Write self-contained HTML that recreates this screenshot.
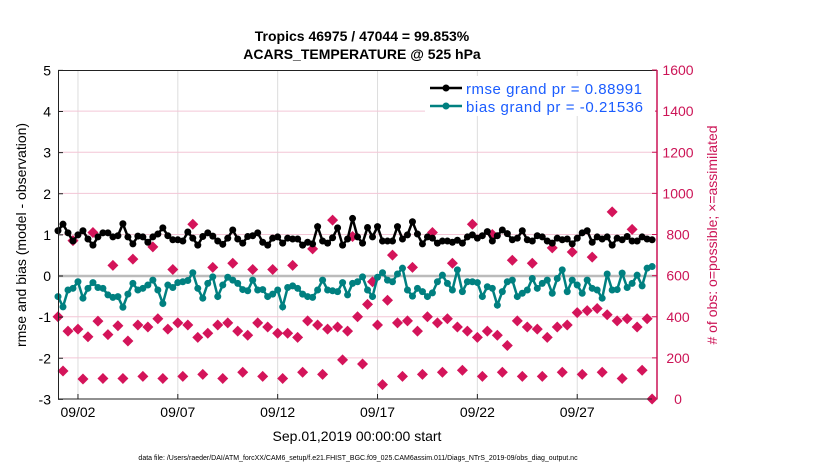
<!DOCTYPE html>
<html><head><meta charset="utf-8"><style>
body{margin:0;background:#fff;font-family:"Liberation Sans",sans-serif}
svg text{font-family:"Liberation Sans",sans-serif}
</style></head><body>
<svg id="chart" width="830" height="470" xmlns="http://www.w3.org/2000/svg">
<text x="362" y="41" font-size="14" font-weight="bold" text-anchor="middle">Tropics 46975 / 47044 = 99.853%</text>
<text x="362" y="59" font-size="14" font-weight="bold" text-anchor="middle">ACARS_TEMPERATURE @ 525 hPa</text>
<g id="grid"></g>
<g id="marks"></g>
<rect x="58.5" y="70.5" width="598.5" height="328.5" fill="none" stroke="#222" stroke-width="1"/>
<g id="axes"></g>
<text transform="translate(26,235) rotate(-90)" font-size="14" text-anchor="middle">rmse and bias (model - observation)</text>
<text transform="translate(717,235) rotate(-90)" font-size="14" fill="#cc1456" text-anchor="middle"># of obs: o=possible; ×=assimilated</text>
<text x="357" y="441" font-size="14" text-anchor="middle">Sep.01,2019 00:00:00 start</text>
<text x="358" y="460" font-size="7" text-anchor="middle">data file: /Users/raeder/DAI/ATM_forcXX/CAM6_setup/f.e21.FHIST_BGC.f09_025.CAM6assim.011/Diags_NTrS_2019-09/obs_diag_output.nc</text>
<g>
<rect x="425" y="76" width="230" height="40" fill="#fff"/>
<line x1="430" y1="88" x2="462" y2="88" stroke="#000" stroke-width="2.5"/><circle cx="446" cy="88" r="3.5" fill="#000"/>
<text x="466" y="94" font-size="15" textLength="176" fill="#1a5cff">rmse grand pr = 0.88991</text>
<line x1="430" y1="106" x2="462" y2="106" stroke="#008080" stroke-width="2.5"/><circle cx="446" cy="106" r="3.5" fill="#008080"/>
<text x="466" y="112" font-size="15" textLength="177" fill="#1a5cff">bias grand pr = -0.21536</text>
</g>
</svg>
<script>
const xTickLabels=["09/02","09/07","09/12","09/17","09/22","09/27"];
const xTickDays=[1,6,11,16,21,26];
const leftTicks=[-3,-2,-1,0,1,2,3,4,5];
const rightTicks=[0,200,400,600,800,1000,1200,1400,1600];
const rmse=[1.10,1.26,1.05,0.85,1.0,1.1,0.9,0.75,0.95,1.05,1.05,0.95,0.98,1.27,0.95,0.78,0.97,0.95,0.82,0.95,1.02,1.17,0.98,0.88,0.88,0.85,1.07,0.92,0.75,0.96,1.05,0.97,0.85,0.77,0.92,1.12,0.9,0.8,0.96,0.98,1.05,0.82,0.75,0.92,0.95,0.8,0.92,0.9,0.9,0.75,0.82,0.78,1.2,0.85,0.8,0.93,1.17,0.75,0.9,1.4,0.95,0.8,1.18,0.95,1.2,0.85,0.85,0.85,1.2,0.9,1.0,1.32,1.02,0.78,0.95,0.92,0.8,0.85,0.85,0.82,0.87,0.8,0.95,1.0,0.92,0.98,1.08,0.85,0.98,1.12,1.03,0.88,0.92,1.1,0.88,0.85,0.98,0.95,0.85,0.8,0.92,0.88,0.9,0.78,0.92,1.05,1.1,0.82,0.95,0.9,0.95,0.75,0.92,0.88,0.96,0.85,0.85,0.95,0.9,0.88];
const bias=[-0.50,-0.75,-0.34,-0.30,-0.14,-0.54,-0.30,-0.16,-0.28,-0.30,-0.46,-0.52,-0.50,-0.76,-0.44,-0.18,-0.34,-0.30,-0.22,-0.10,-0.34,-0.67,-0.22,-0.28,-0.16,-0.14,-0.11,0.08,-0.30,-0.54,-0.18,-0.02,-0.50,-0.22,-0.03,-0.10,-0.18,-0.33,-0.36,-0.10,-0.34,-0.33,-0.50,-0.44,-0.34,-0.75,-0.28,-0.24,-0.30,-0.44,-0.50,-0.52,-0.34,-0.10,-0.34,-0.36,-0.38,-0.16,-0.46,-0.18,-0.14,-0.02,-0.34,-0.50,-0.03,0.08,-0.10,-0.14,0.05,0.19,-0.34,-0.49,-0.30,-0.38,-0.50,-0.41,-0.14,0.02,-0.18,-0.34,0.15,-0.38,-0.14,-0.14,-0.16,-0.50,-0.26,-0.30,-0.71,-0.38,-0.14,-0.10,-0.50,-0.42,-0.34,-0.06,-0.30,-0.18,-0.10,-0.42,-0.06,0.15,-0.38,-0.10,-0.22,-0.42,-0.10,-0.30,-0.34,-0.54,0.05,-0.34,-0.33,0.07,-0.28,-0.18,0.02,-0.24,0.19,0.23];
const obsCount=[400,136,330,770,340,97,303,810,379,100,313,650,356,100,282,680,360,110,350,740,390,100,340,630,370,110,360,850,300,120,320,640,360,100,370,660,330,130,310,630,370,110,350,630,320,100,320,650,300,130,380,730,360,120,340,870,350,190,330,790,400,170,460,570,360,70,480,700,370,110,380,640,330,120,400,810,370,130,390,660,350,140,330,850,300,110,330,800,310,130,260,675,380,110,350,660,340,110,300,735,350,130,360,715,420,120,430,690,440,130,410,910,380,100,390,825,350,140,390,0];
const NS="http://www.w3.org/2000/svg";
const X0=58,PXD=19.97,L=58,R=657,T=70,B=399;
const xs=d=>X0+d*PXD;
const yl=v=>276-v*41.125;
const yr=v=>B-v*(B-T)/1600;
function mk(tag,attrs,parent){const e=document.createElementNS(NS,tag);for(const k in attrs)e.setAttribute(k,attrs[k]);parent.appendChild(e);return e;}
const grid=document.getElementById('grid'),marks=document.getElementById('marks'),axes=document.getElementById('axes');
xTickDays.forEach((d,i)=>{
 const g=mk('line',{x1:xs(d),x2:xs(d),y1:T,y2:B,stroke:'#ddd','stroke-width':1},grid);
 
 
 const t=mk('line',{x1:xs(d),x2:xs(d),y1:B,y2:B-5,stroke:'#222'},axes);
 
 
 const lb=mk('text',{x:xs(d),y:B+18,'font-size':14,'text-anchor':'middle'},axes);lb.textContent=xTickLabels[i];
 
 
});
rightTicks.forEach(v=>{
 if(v>0&&v<1600){const g=mk('line',{x1:L,x2:R,y1:yr(v),y2:yr(v),stroke:'#f3c6d6','stroke-width':1},grid);
 
 }
 mk('line',{x1:R-5,x2:R,y1:yr(v),y2:yr(v),stroke:'#cc1456'},axes);
 const lb=mk('text',{x:R+21,y:yr(v)+5,'font-size':14,fill:'#cc1456','text-anchor':'middle'},axes);lb.textContent=v;
 
 
});
mk('line',{x1:R,x2:R,y1:T,y2:B,stroke:'#cc1456','stroke-width':1.5},axes);
leftTicks.forEach(v=>{
 const lb=mk('text',{x:51,y:yl(v)+5,'font-size':14,'text-anchor':'end'},axes);lb.textContent=v;
 
 
 mk('line',{x1:L,x2:L+5,y1:yl(v),y2:yl(v),stroke:'#222'},axes);
});
const zl=mk('line',{x1:L,x2:R,y1:yl(0),y2:yl(0),stroke:'#bbb','stroke-width':2.5},grid);


obsCount.forEach((v,i)=>{
 const x=xs(i*0.25),y=yr(v);
 const p=mk('polygon',{points:`${x},${y-5.5} ${x+5.5},${y} ${x},${y+5.5} ${x-5.5},${y}`,fill:'#d4145a'},marks);
 
 
});
function series(arr,color,name){
 const pts=arr.map((v,i)=>xs(i*0.25)+','+yl(v)).join(' ');
 const pl=mk('polyline',{points:pts,fill:'none',stroke:color,'stroke-width':2.5},marks);
 
 
 arr.forEach((v,i)=>{const c=mk('circle',{cx:xs(i*0.25),cy:yl(v),r:3.5,fill:color},marks);
 
 });
}
series(rmse,'#000','rmse');
series(bias,'#008080','bias');
</script>
</body></html>
